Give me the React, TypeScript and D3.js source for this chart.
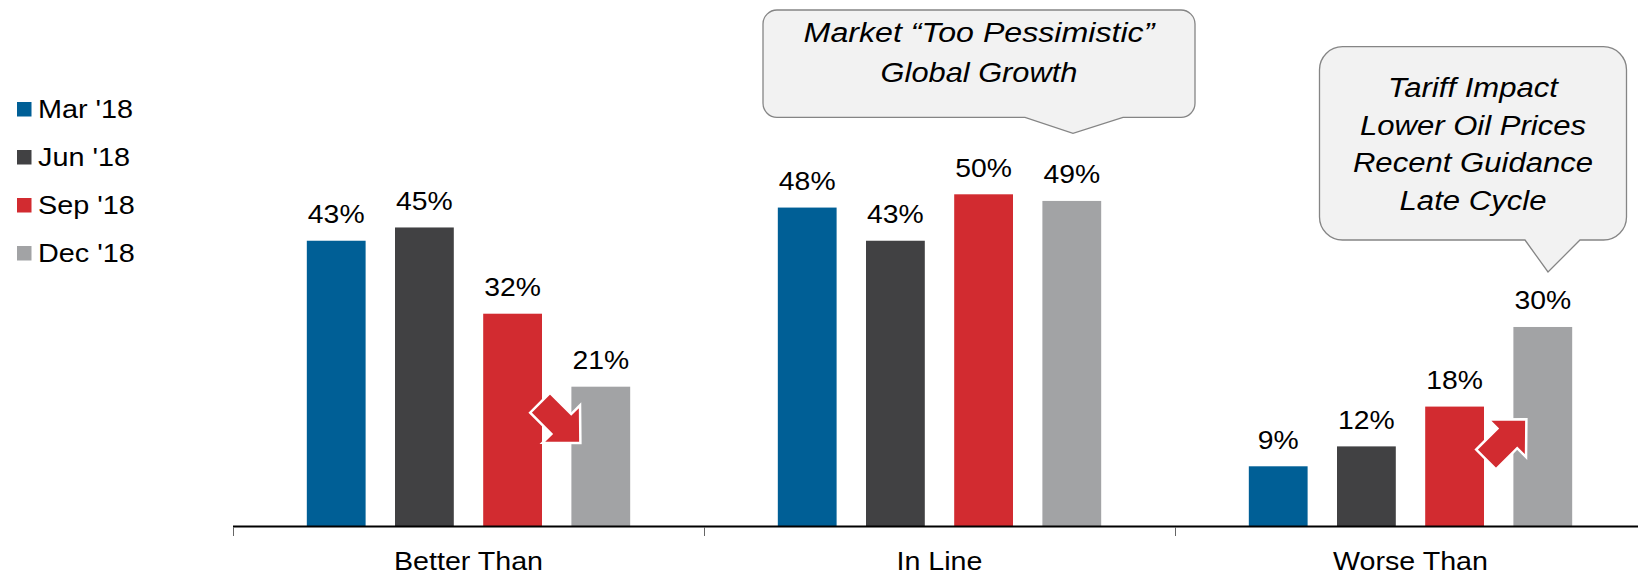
import React from "react";
import * as d3 from "d3";

const categories = ["Better Than", "In Line", "Worse Than"];
const seriesNames = ["Mar '18", "Jun '18", "Sep '18", "Dec '18"];
const mar18 = [43, 48, 9];
const jun18 = [45, 43, 12];
const sep18 = [32, 50, 18];
const dec18 = [21, 49, 30];
const seriesColors = ["#005F96", "#414143", "#D22B30", "#A2A3A5"];
const callout1Lines = ["Market \u201CToo Pessimistic\u201D", "Global Growth"];
const callout2Lines = ["Tariff Impact", "Lower Oil Prices", "Recent Guidance", "Late Cycle"];

const W = 1638;
const H = 575;
const FONT = "'Liberation Sans', Arial, Helvetica, sans-serif";

function roundedCallout(x: number, y: number, w: number, h: number, r: number, t1: number, tipX: number, tipY: number, t2: number) {
  const p = d3.path();
  p.moveTo(x + r, y);
  p.lineTo(x + w - r, y);
  p.arcTo(x + w, y, x + w, y + r, r);
  p.lineTo(x + w, y + h - r);
  p.arcTo(x + w, y + h, x + w - r, y + h, r);
  p.lineTo(t2, y + h);
  p.lineTo(tipX, tipY);
  p.lineTo(t1, y + h);
  p.lineTo(x + r, y + h);
  p.arcTo(x, y + h, x, y + h - r, r);
  p.lineTo(x, y + r);
  p.arcTo(x, y, x + r, y, r);
  p.closePath();
  return p.toString();
}

function arrowPoints(tipX: number, tipY: number, angleDeg: number) {
  const local: [number, number][] = [
    [0, 0],
    [-27, 26.5],
    [-27, 14],
    [-57, 14],
    [-57, -14],
    [-27, -14],
    [-27, -26.5],
  ];
  const a = (angleDeg * Math.PI) / 180;
  return local
    .map(([x, y]) => [tipX + x * Math.cos(a) - y * Math.sin(a), tipY + x * Math.sin(a) + y * Math.cos(a)])
    .map((p) => p.join(","))
    .join(" ");
}

export default function App() {
  const series = [mar18, jun18, sep18, dec18];
  const x0 = d3.scaleBand<string>().domain(categories).range([233, 1646]).padding(0);
  const x1 = d3
    .scaleBand<string>()
    .domain(seriesNames)
    .range([0, x0.bandwidth()])
    .paddingInner(1 / 3)
    .paddingOuter(0.837);
  const y = d3.scaleLinear().domain([0, 50]).range([526, 194.3]);

  const barX = (ci: number, si: number) => (x0(categories[ci]) as number) + (x1(seriesNames[si]) as number);

  const labelSx = 1.09;
  const catSx = 1.08;
  const legSx = 1.13;
  const callSx = 1.11;

  const arrow1 = arrowPoints(barX(0, 3) + 9, y(12.5), 45);
  const arrow2 = arrowPoints(barX(2, 3) + 13, y(16.1), -45);

  const c1 = { x: 763, y: 10, w: 432, h: 107.3, r: 14 };
  const c2 = { x: 1319.5, y: 46.7, w: 307, h: 193.3, r: 23 };

  return (
    <svg width={W} height={H} style={{ position: "absolute", left: 0, top: 0, background: "#fff" }} fontFamily={FONT}>
      <rect x={0} y={0} width={W} height={H} fill="#fff" />
      {seriesNames.map((s, i) => (
        <g key={s}>
          <rect x={17} y={102 + i * 48} width={14.5} height={14.5} fill={seriesColors[i]} />
          <text transform={`translate(38,${117.5 + i * 48}) scale(${legSx},1)`} fontSize={25.5} fill="#000">
            {s}
          </text>
        </g>
      ))}
      {series.map((vals, si) =>
        vals.map((v, ci) => (
          <rect
            key={`${si}-${ci}`}
            x={barX(ci, si)}
            y={y(v)}
            width={x1.bandwidth()}
            height={y(0) - y(v)}
            fill={seriesColors[si]}
          />
        ))
      )}
      {series.map((vals, si) =>
        vals.map((v, ci) => (
          <text
            key={`l${si}-${ci}`}
            transform={`translate(${barX(ci, si) + x1.bandwidth() / 2},${y(v) - 17.5}) scale(${labelSx},1)`}
            textAnchor="middle"
            fontSize={26}
            fill="#000"
          >
            {`${v}%`}
          </text>
        ))
      )}
      <polygon points={arrow1} fill="#D22B30" stroke="#fff" strokeWidth={2.5} strokeLinejoin="miter" />
      <polygon points={arrow2} fill="#D22B30" stroke="#fff" strokeWidth={2.5} strokeLinejoin="miter" />
      <line x1={233} x2={W} y1={526.5} y2={526.5} stroke="#000" strokeWidth={2} />
      {categories.map((c) => (
        <line
          key={`t${c}`}
          x1={(x0(c) as number) + 0.5}
          x2={(x0(c) as number) + 0.5}
          y1={527}
          y2={536}
          stroke="#666"
          strokeWidth={1}
        />
      ))}
      {categories.map((c) => (
        <text
          key={`c${c}`}
          transform={`translate(${(x0(c) as number) + x0.bandwidth() / 2},569.5) scale(${catSx},1)`}
          textAnchor="middle"
          fontSize={26.5}
          fill="#000"
        >
          {c}
        </text>
      ))}
      <path
        d={roundedCallout(c1.x, c1.y, c1.w, c1.h, c1.r, 1025, 1073, 133.3, 1123)}
        fill="#F2F2F2"
        stroke="#858585"
        strokeWidth={1.3}
      />
      {callout1Lines.map((t, i) => (
        <text
          key={t}
          transform={`translate(${c1.x + c1.w / 2},${42 + i * 40}) scale(${i === 0 ? 1.17 : 1.12},1)`}
          textAnchor="middle"
          fontSize={27.5}
          fontStyle="italic"
          fill="#000"
        >
          {t}
        </text>
      ))}
      <path
        d={roundedCallout(c2.x, c2.y, c2.w, c2.h, c2.r, 1525, 1548, 272, 1580)}
        fill="#F2F2F2"
        stroke="#858585"
        strokeWidth={1.3}
      />
      {callout2Lines.map((t, i) => (
        <text
          key={t}
          transform={`translate(${c2.x + c2.w / 2},${97 + i * 37.5}) scale(${callSx},1)`}
          textAnchor="middle"
          fontSize={28}
          fontStyle="italic"
          fill="#000"
        >
          {t}
        </text>
      ))}
    </svg>
  );
}
